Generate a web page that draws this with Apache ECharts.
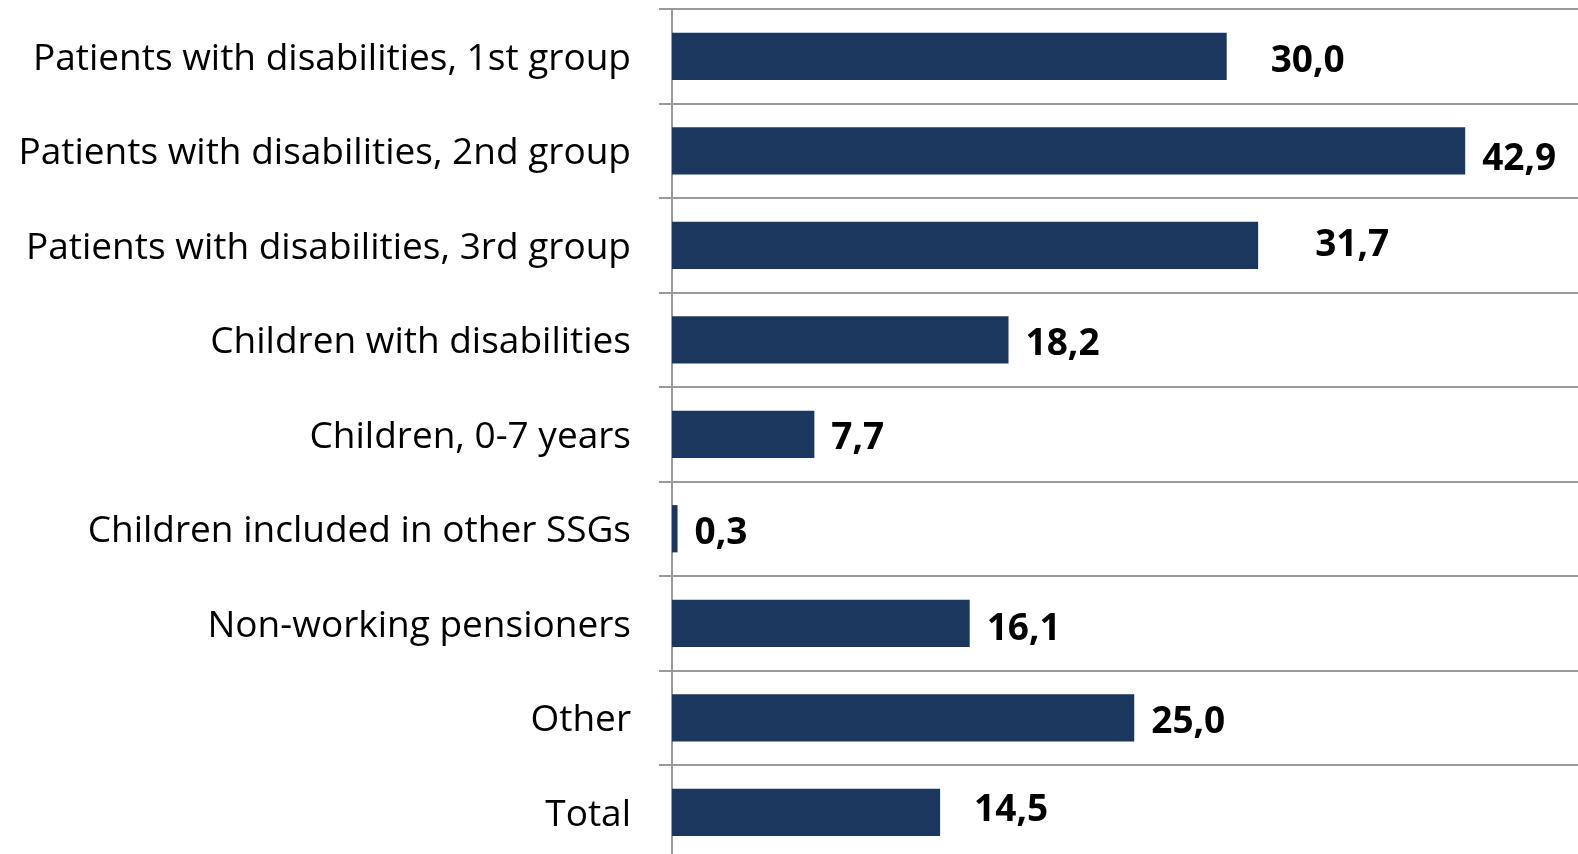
<!DOCTYPE html>
<html>
<head>
<meta charset="utf-8">
<style>
html,body{margin:0;padding:0;background:#fff;overflow:hidden;}
#chart{width:1578px;height:880px;}
</style>
<script src="https://cdn.jsdelivr.net/npm/echarts@6/dist/echarts.min.js"></script>
</head>
<body>
<div id="chart"></div>
<script>
const categories = [
  'Patients with disabilities, 1st group',
  'Patients with disabilities, 2nd group',
  'Patients with disabilities, 3rd group',
  'Children with disabilities',
  'Children, 0-7 years',
  'Children included in other SSGs',
  'Non-working pensioners',
  'Other',
  'Total'
];
const values = [30.0, 42.9, 31.7, 18.2, 7.7, 0.3, 16.1, 25.0, 14.5];
// label nudges [dx, dy] (style only)
const labelShift = [[27, 5], [0, 9], [40, 0], [0, 5], [0, 4], [0, 5], [0, 6], [0, 5], [17, -2]];

const chart = echarts.init(document.getElementById('chart'));
chart.setOption({
  animation: false,
  grid: { left: 672, right: 0, top: 9, height: 850.5, containLabel: false },
  xAxis: {
    type: 'value', min: 0, max: 49,
    axisLine: { show: false }, axisTick: { show: false },
    axisLabel: { show: false }, splitLine: { show: false }
  },
  yAxis: {
    type: 'category', inverse: true, data: categories,
    axisLine: { show: true, lineStyle: { color: '#9a9a9a', width: 2 } },
    axisTick: { show: true, length: 13, lineStyle: { color: '#9a9a9a', width: 2 } },
    splitLine: { show: true, lineStyle: { color: '#9a9a9a', width: 2 } },
    axisLabel: { color: '#000', fontFamily: 'Open Sans', fontSize: 37, margin: 41, verticalAlign: 'top', lineHeight: 6 }
  },
  series: [{
    type: 'bar', barWidth: '50%',
    itemStyle: { color: '#1b375e' },
    data: values.map((v, i) => ({
      value: v,
      label: { offset: labelShift[i] }
    })),
    label: {
      show: true, position: 'right', distance: 17,
      color: '#000', fontFamily: 'Open Sans', fontWeight: 'bold', fontSize: 37,
      formatter: p => p.value.toFixed(1).replace('.', ',')
    }
  }]
});
</script>
</body>
</html>
